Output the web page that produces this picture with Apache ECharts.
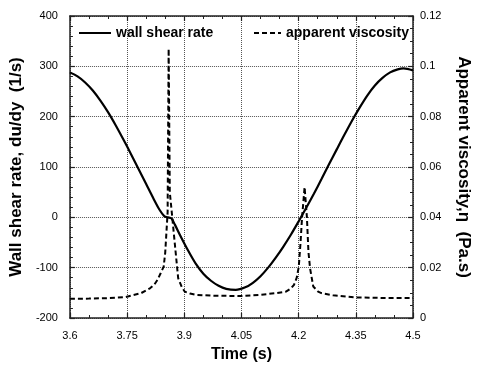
<!DOCTYPE html>
<html>
<head>
<meta charset="utf-8">
<script src="https://cdn.jsdelivr.net/npm/echarts@6/dist/echarts.min.js"></script>
<style>
html,body{margin:0;padding:0;background:#fff;}
#chart{width:480px;height:368px;}
</style>
</head>
<body>
<div id="chart"></div>
<script>
// ---- data ----
var shearTime = [3.6, 3.62, 3.64, 3.66, 3.68, 3.7, 3.72, 3.74, 3.76, 3.78, 3.8, 3.82, 3.835, 3.848, 3.857, 3.866, 3.875, 3.89, 3.91, 3.93, 3.95, 3.97, 3.99, 4.01, 4.035, 4.06, 4.08, 4.1, 4.12, 4.14, 4.16, 4.18, 4.2, 4.22, 4.24, 4.26, 4.28, 4.3, 4.32, 4.34, 4.36, 4.38, 4.4, 4.42, 4.44, 4.46, 4.475, 4.5];
var shearRate = [288, 280, 268, 252, 232, 209, 183, 155, 126, 96, 66, 36, 15, 2, 0, -2, -14, -37, -66, -92, -112, -126, -136, -142, -144, -139, -130, -117, -100, -80, -58, -34, -8, 19, 47, 76, 106, 135, 164, 192, 218, 242, 262, 277, 288, 294, 296, 292];

var viscTime = [3.6, 3.65, 3.7, 3.745, 3.787, 3.81, 3.821, 3.83, 3.838, 3.846, 3.85, 3.8563, 3.859, 3.862, 3.8672, 3.8755, 3.884, 3.893, 3.901, 3.915, 3.931, 3.97, 4.05, 4.1, 4.1415, 4.1668, 4.18, 4.1878, 4.195, 4.2004, 4.205, 4.209, 4.2156, 4.2217, 4.2257, 4.23, 4.2384, 4.251, 4.2597, 4.29, 4.348, 4.445, 4.5];
var viscValue = [0.0076, 0.0077, 0.0079, 0.0083, 0.0099, 0.0118, 0.0132, 0.0152, 0.0178, 0.0204, 0.026, 0.042, 0.107, 0.05, 0.042, 0.029, 0.0158, 0.0125, 0.0105, 0.0097, 0.0092, 0.0089, 0.0087, 0.0092, 0.0099, 0.0105, 0.0118, 0.0132, 0.016, 0.0204, 0.030, 0.040, 0.052, 0.040, 0.0263, 0.0197, 0.0125, 0.0105, 0.0099, 0.0090, 0.0082, 0.0079, 0.0079];

var seriesNames = ['wall shear rate', 'apparent viscosity'];
var xTicks = {min: 3.6, max: 4.5, interval: 0.15};
var yLeftTicks = {min: -200, max: 400, interval: 100};
var yRightTicks = {min: 0, max: 0.12, interval: 0.02};
var xName = 'Time (s)';
var yLeftName = 'Wall shear rate, du/dy  (1/s)';
var yRightName = 'Apparent viscosity,\u03b7  (Pa.s)';

// ---- build ----
function pairs(xs, ys) { return xs.map(function (x, i) { return [x, ys[i]]; }); }
var FONT = 'Liberation Sans, Arial, sans-serif';
var axisLineStyle = {color: '#222', width: 1.5};
var tickCommon = {show: true, inside: true, length: 5, lineStyle: {color: '#222', width: 1.2}};
var minorCommon = {show: true, length: 3, lineStyle: {color: '#222', width: 1}};
var labelStyle = {color: '#000', fontSize: 11, fontFamily: FONT};
var nameStyle = {color: '#000', fontSize: 16, fontWeight: 'bold', fontFamily: FONT};
var nameStyleY = {color: '#000', fontSize: 17, fontWeight: 'bold', fontFamily: FONT};
var legendCommon = {padding: 0, itemHeight: 14,
  itemStyle: {color: 'rgba(0,0,0,0)', borderColor: 'rgba(0,0,0,0)', borderWidth: 0},
  textStyle: {color: '#000', fontSize: 14, fontWeight: 'bold', fontFamily: FONT}};

var chart = echarts.init(document.getElementById('chart'), null, {renderer: 'canvas'});
chart.setOption({
  animation: false,
  backgroundColor: '#fff',
  grid: {left: 66, right: 58, top: 16, bottom: 48, containLabel: false},
  legend: [
    Object.assign({data: [seriesNames[0]], left: 78, top: 26, itemWidth: 32}, legendCommon),
    Object.assign({data: [seriesNames[1]], left: 253, top: 26, itemWidth: 27}, legendCommon)
  ],
  xAxis: [
    {type: 'value', position: 'bottom', min: xTicks.min, max: xTicks.max, interval: xTicks.interval,
     name: xName, nameLocation: 'middle', nameGap: 29, nameTextStyle: nameStyle,
     axisLine: {show: true, onZero: false, lineStyle: axisLineStyle},
     axisTick: tickCommon, minorTick: Object.assign({splitNumber: 3}, minorCommon),
     axisLabel: Object.assign({margin: 12}, labelStyle),
     splitLine: {show: true, lineStyle: {color: '#555', type: 'dotted', width: 1}}},
    {type: 'value', position: 'top', min: xTicks.min, max: xTicks.max, interval: xTicks.interval,
     axisLine: {show: true, onZero: false, lineStyle: axisLineStyle},
     axisTick: tickCommon, minorTick: Object.assign({splitNumber: 3}, minorCommon),
     axisLabel: {show: false}, splitLine: {show: false}}
  ],
  yAxis: [
    {type: 'value', position: 'left', min: yLeftTicks.min, max: yLeftTicks.max, interval: yLeftTicks.interval,
     name: yLeftName, nameLocation: 'middle', nameGap: 44, nameTextStyle: nameStyleY,
     axisLine: {show: true, onZero: false, lineStyle: axisLineStyle},
     axisTick: tickCommon, minorTick: Object.assign({splitNumber: 5}, minorCommon),
     axisLabel: Object.assign({margin: 12}, labelStyle),
     splitLine: {show: true, lineStyle: {color: '#555', type: 'dotted', width: 1}}},
    {type: 'value', position: 'right', min: yRightTicks.min, max: yRightTicks.max, interval: yRightTicks.interval,
     name: yRightName, nameLocation: 'middle', nameGap: 42, nameRotate: -90, nameTextStyle: nameStyleY,
     axisLine: {show: true, onZero: false, lineStyle: axisLineStyle},
     axisTick: tickCommon, minorTick: Object.assign({splitNumber: 4}, minorCommon),
     axisLabel: Object.assign({margin: 7}, labelStyle),
     splitLine: {show: false}}
  ],
  series: [
    {name: seriesNames[0], type: 'line', xAxisIndex: 0, yAxisIndex: 0, data: pairs(shearTime, shearRate),
     showSymbol: false, symbol: 'none', smooth: 0.3,
     lineStyle: {color: '#000', width: 2.2}, itemStyle: {color: '#000'}},
    {name: seriesNames[1], type: 'line', xAxisIndex: 0, yAxisIndex: 1, data: pairs(viscTime, viscValue),
     showSymbol: false, symbol: 'none', smooth: false,
     lineStyle: {color: '#000', width: 2, type: [5, 3]}, itemStyle: {color: '#000'}}
  ]
});
</script>
</body>
</html>
